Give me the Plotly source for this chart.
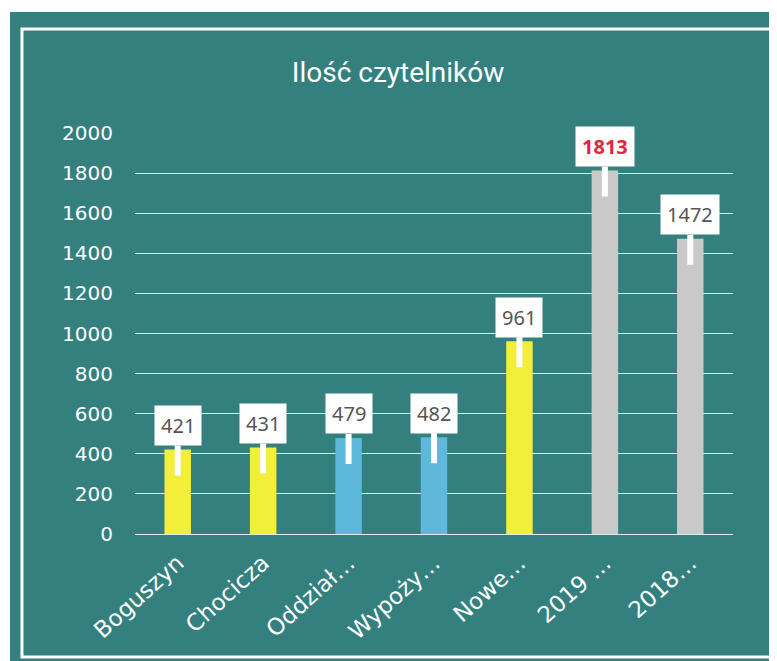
import plotly.graph_objects as go

categories = ["Boguszyn", "Chocicza", "Oddział…", "Wypoży…", "Nowe…", "2019 …", "2018…"]
readers = [421, 431, 479, 482, 961, 1813, 1472]
bar_colors = ["#f2ee3a", "#f2ee3a", "#5db8da", "#5db8da", "#f2ee3a", "#c9c9c9", "#c9c9c9"]
y_ticks = [0, 200, 400, 600, 800, 1000, 1200, 1400, 1600, 1800, 2000]

teal = "#33807e"

fig = go.Figure(go.Bar(
    x=categories, y=readers,
    marker=dict(color=bar_colors, line=dict(width=0)),
    width=0.31,
))

# callout labels above the bars
for cat, val in zip(categories, readers):
    best = val == max(readers)
    fig.add_annotation(
        x=cat, y=val, text=str(val),
        yshift=-26, ax=0, ay=-50,
        showarrow=True, arrowhead=0, arrowwidth=6, arrowcolor="white", standoff=0,
        bgcolor="white", borderpad=6,
        font=dict(family="Noto Sans", size=20,
                  color="#e3263b" if best else "#555555",
                  weight="bold" if best else "normal"),
    )

# scan frame: white strips + inner white border
fig.add_shape(type="rect", xref="paper", yref="paper", x0=-0.3, x1=1.2, y0=1.302, y1=1.4,
              fillcolor="white", line_width=0, layer="below")
fig.add_shape(type="rect", xref="paper", yref="paper", x0=-0.3, x1=-0.209, y0=-0.4, y1=1.4,
              fillcolor="white", line_width=0, layer="below")
fig.add_shape(type="rect", xref="paper", yref="paper", x0=-0.189, x1=1.065, y0=-0.3067, y1=1.2594,
              line=dict(color="white", width=3), layer="below")

fig.update_layout(
    width=777, height=661,
    margin=dict(l=127, r=52, t=125, b=135),
    paper_bgcolor=teal, plot_bgcolor=teal,
    showlegend=False,
    title=dict(text="Ilość czytelników", x=0.502, xanchor="center", y=0.903, yanchor="middle",
               font=dict(family="Roboto", size=28, color="white")),
    xaxis=dict(tickangle=-42, tickfont=dict(family="DejaVu Sans", size=23, color="white"),
               showgrid=False, showline=False, ticks="", ticklabelstandoff=10),
    yaxis=dict(range=[0, 2000], tickvals=y_ticks,
               tickfont=dict(family="DejaVu Sans", size=20, color="white"),
               gridcolor="rgba(255,255,255,0.85)", gridwidth=1.3,
               zeroline=True, zerolinecolor="rgba(255,255,255,0.85)", zerolinewidth=1.3,
               showline=False, ticklabelstandoff=21),
)

fig.write_html("out.html")
